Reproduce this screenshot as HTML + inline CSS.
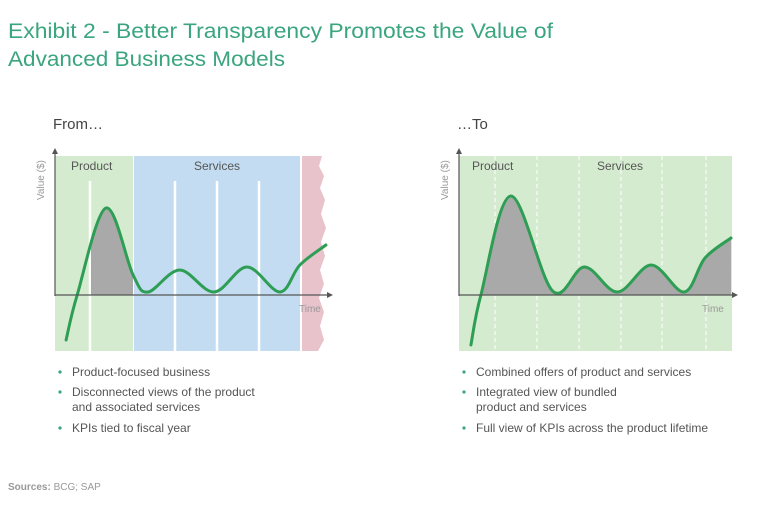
<!DOCTYPE html>
<html><head><meta charset="utf-8"><style>
html,body{margin:0;padding:0;background:#fff;}
svg{display:block;font-family:"Liberation Sans",sans-serif;}
</style></head><body>
<svg id="chart" width="768" height="514" viewBox="0 0 768 514">
<text x="8" y="38" font-size="21" fill="#3aa57f" textLength="545" lengthAdjust="spacingAndGlyphs">Exhibit 2 - Better Transparency Promotes the Value of</text>
<text x="8" y="66" font-size="21" fill="#3aa57f" textLength="277" lengthAdjust="spacingAndGlyphs">Advanced Business Models</text>
<text x="53" y="129" font-size="15" fill="#444">From…</text>
<text x="457" y="129" font-size="15" fill="#444">…To</text>

<g>
<rect x="55" y="156" width="78" height="195" fill="#d5ebcf"/>
<rect x="134" y="156" width="166" height="195" fill="#c3dcf1"/>
<path d="M302,156 L322,156 L319,166 L324,176 L320,188 L325,200 L321,214 L326,228 L321,242 L325,256 L320,270 L324,284 L319,298 L324,312 L320,326 L324,340 L318,351 L302,351 Z" fill="#e8c3cc"/>
<g stroke="#fff" stroke-width="2.5"><line x1="90" y1="181" x2="90" y2="351"/><line x1="175" y1="181" x2="175" y2="351"/><line x1="217" y1="181" x2="217" y2="351"/><line x1="259" y1="181" x2="259" y2="351"/></g>
<text x="71" y="170" font-size="12" fill="#555">Product</text>
<text x="194" y="170" font-size="12" fill="#555">Services</text>
</g>

<g>
<rect x="459" y="156" width="273" height="195" fill="#d5ebcf"/>
<g stroke="#fff" stroke-width="1" stroke-dasharray="4,3"><line x1="495" y1="156" x2="495" y2="351"/><line x1="537" y1="156" x2="537" y2="351"/><line x1="579" y1="156" x2="579" y2="351"/><line x1="621" y1="156" x2="621" y2="351"/><line x1="662" y1="156" x2="662" y2="351"/><line x1="706" y1="156" x2="706" y2="351"/></g>
<text x="472" y="170" font-size="12" fill="#555">Product</text>
<text x="597" y="170" font-size="12" fill="#555">Services</text>
</g>

<defs>
<clipPath id="clipL"><rect x="91" y="100" width="42" height="195"/></clipPath>
<clipPath id="clipR"><rect x="459" y="100" width="273" height="195"/></clipPath>
</defs>
<g id="marks"></g>

<g fill="#555" stroke="#555">
<line x1="55" y1="296" x2="55" y2="152" stroke-width="1.2"/><path d="M52,154 L55,148 L58,154 Z" stroke="none"/>
<line x1="55" y1="295" x2="328" y2="295" stroke-width="1.2"/><path d="M327,292 L333,295 L327,298 Z" stroke="none"/>
<line x1="459" y1="296" x2="459" y2="152" stroke-width="1.2"/><path d="M456,154 L459,148 L462,154 Z" stroke="none"/>
<line x1="459" y1="295" x2="733" y2="295" stroke-width="1.2"/><path d="M732,292 L738,295 L732,298 Z" stroke="none"/>
</g>
<text transform="translate(44,200) rotate(-90)" font-size="10" fill="#999">Value ($)</text>
<text x="299" y="312" font-size="10" fill="#999">Time</text>
<text transform="translate(448,200) rotate(-90)" font-size="10" fill="#999">Value ($)</text>
<text x="702" y="312" font-size="10" fill="#999">Time</text>

<g font-size="12" fill="#555">
<circle cx="60" cy="372" r="1.6" fill="#3aa57f"/><text x="72" y="376">Product-focused business</text>
<circle cx="60" cy="392" r="1.6" fill="#3aa57f"/><text x="72" y="396">Disconnected views of the product</text><text x="72" y="411">and associated services</text>
<circle cx="60" cy="428" r="1.6" fill="#3aa57f"/><text x="72" y="432">KPIs tied to fiscal year</text>
</g>
<g font-size="12" fill="#555">
<circle cx="464" cy="372" r="1.6" fill="#3aa57f"/><text x="476" y="376">Combined offers of product and services</text>
<circle cx="464" cy="392" r="1.6" fill="#3aa57f"/><text x="476" y="396">Integrated view of bundled</text><text x="476" y="411">product and services</text>
<circle cx="464" cy="428" r="1.6" fill="#3aa57f"/><text x="476" y="432">Full view of KPIs across the product lifetime</text>
</g>
<text x="8" y="490" font-size="10" fill="#999"><tspan font-weight="bold">Sources:</tspan> BCG; SAP</text>
</svg>
<script>
const leftTimes = [4, 8, 18.4, 28.2, 33.6, 45, 57.4, 69.3, 81.2, 88.4, 97.8];
const leftValues = [-45, 0, 87, 20, 3, 25, 3, 28, 3, 30, 50];
const rightTimes = [4.3, 7.9, 18.7, 33.8, 45.3, 57.2, 69.4, 81.3, 88.8, 98.2];
const rightValues = [-50, 0, 99, 4, 28, 3, 30, 3, 37, 57];

function makeX(x0){return t=>x0+t*2.77;}
function yScale(v){return 295-v;}
function smooth(pts){
  let d='M'+pts[0][0]+','+pts[0][1];
  for(let i=0;i<pts.length-1;i++){
    const p0=pts[Math.max(0,i-1)],p1=pts[i],p2=pts[i+1],p3=pts[Math.min(pts.length-1,i+2)];
    const c1=[p1[0]+(p2[0]-p0[0])/6,p1[1]+(p2[1]-p0[1])/6];
    const c2=[p2[0]-(p3[0]-p1[0])/6,p2[1]-(p3[1]-p1[1])/6];
    d+=' C'+c1[0].toFixed(1)+','+c1[1].toFixed(1)+' '+c2[0].toFixed(1)+','+c2[1].toFixed(1)+' '+p2[0].toFixed(1)+','+p2[1].toFixed(1);
  }
  return d;
}
const ns='http://www.w3.org/2000/svg';
const g=document.getElementById('marks');
function draw(times,vals,x0,clip,prefix){
  const xs=makeX(x0);
  const pts=times.map((t,i)=>[xs(t),yScale(vals[i])]);
  const d=smooth(pts);
  const last=pts[pts.length-1],first=pts[0];
  const fill=document.createElementNS(ns,'path');
  fill.setAttribute('d',d+' L'+last[0]+',295 L'+first[0]+',295 Z');
  fill.setAttribute('fill','#a9a9a9');
  fill.setAttribute('clip-path','url(#'+clip+')');
  
  
  g.appendChild(fill);
  const line=document.createElementNS(ns,'path');
  line.setAttribute('d',d);
  line.setAttribute('fill','none');
  line.setAttribute('stroke','#2e9e55');
  line.setAttribute('stroke-width','3');
  line.setAttribute('stroke-linecap','round');
  
  
  g.appendChild(line);
}
draw(leftTimes,leftValues,55,'clipL','left');
draw(rightTimes,rightValues,459,'clipR','right');
</script>
</body></html>
